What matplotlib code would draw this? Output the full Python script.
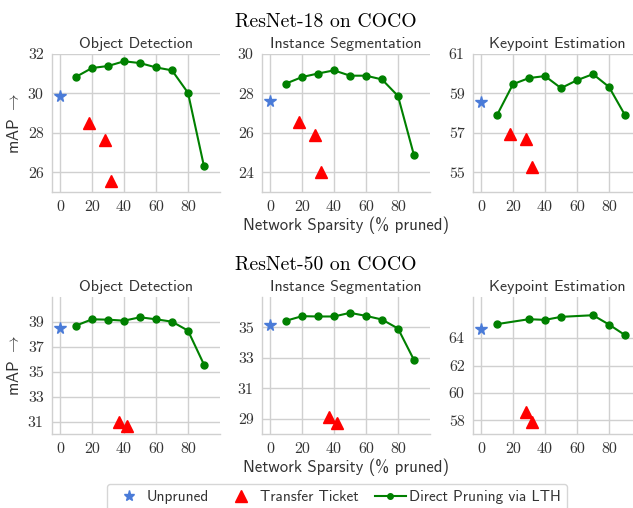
import matplotlib
matplotlib.use("Agg")
import matplotlib.pyplot as plt
from matplotlib.lines import Line2D

# ================= data =================
SPARSITY = [10, 20, 30, 40, 50, 60, 70, 80, 90]

R18_DET = [30.84, 31.29, 31.39, 31.63, 31.54, 31.32, 31.17, 30.03, 26.30]
R18_SEG = [28.50, 28.83, 29.01, 29.17, 28.90, 28.90, 28.71, 27.87, 24.86]
R18_KP  = [57.90, 59.47, 59.78, 59.88, 59.27, 59.67, 59.98, 59.33, 57.90]

R50_DET = [38.70, 39.21, 39.18, 39.10, 39.37, 39.21, 39.02, 38.30, 35.57]
R50_SEG = [35.44, 35.74, 35.72, 35.72, 35.96, 35.76, 35.52, 34.93, 32.86]
R50_KP_X = [10, 30, 40, 50, 70, 80, 90]
R50_KP   = [65.02, 65.38, 65.33, 65.55, 65.67, 64.99, 64.22]

UNPRUNED_R18 = [29.87, 27.62, 58.57]
UNPRUNED_R50 = [38.52, 35.17, 64.66]

TT_R18_X   = [18, 28, 32]
TT_R18_DET = [28.50, 27.66, 25.58]
TT_R18_SEG = [26.57, 25.88, 24.01]
TT_R18_KP  = [56.95, 56.68, 55.29]

TT_R50_DET_X = [37, 42]
TT_R50_DET   = [31.00, 30.65]
TT_R50_SEG_X = [37, 42]
TT_R50_SEG   = [29.09, 28.74]
TT_R50_KP_X  = [28, 32]
TT_R50_KP    = [58.60, 57.85]

TASKS = ["Object Detection", "Instance Segmentation", "Keypoint Estimation"]
XTICKS = [0, 20, 40, 60, 80]
# =================================================================

plt.rcParams["mathtext.fontset"] = "cm"
plt.rcParams["axes.unicode_minus"] = False

W, H = 633, 508
fig = plt.figure(figsize=(W / 100, H / 100), dpi=100)

BLUE = "#4a7bd8"
GRID = "#d0d0d0"
TXT = "#333333"
SERIF = "cmr10"
SANS = "cmss10"

lefts = [52, 262, 473]
ax_w = 168
rows = [(54, 192), (297, 434)]

panels = [
    # row 0 : ResNet-18
    [(SPARSITY, R18_DET, UNPRUNED_R18[0], TT_R18_X, TT_R18_DET, (25, 32), [26, 28, 30, 32]),
     (SPARSITY, R18_SEG, UNPRUNED_R18[1], TT_R18_X, TT_R18_SEG, (23, 30), [24, 26, 28, 30]),
     (SPARSITY, R18_KP, UNPRUNED_R18[2], TT_R18_X, TT_R18_KP, (54, 61), [55, 57, 59, 61])],
    # row 1 : ResNet-50
    [(SPARSITY, R50_DET, UNPRUNED_R50[0], TT_R50_DET_X, TT_R50_DET, (30, 41), [31, 33, 35, 37, 39]),
     (SPARSITY, R50_SEG, UNPRUNED_R50[1], TT_R50_SEG_X, TT_R50_SEG, (28, 37), [29, 31, 33, 35]),
     (R50_KP_X, R50_KP, UNPRUNED_R50[2], TT_R50_KP_X, TT_R50_KP, (57, 67), [58, 60, 62, 64])],
]

for r, (top, bot) in enumerate(rows):
    for c, left in enumerate(lefts):
        ax = fig.add_axes([left / W, 1 - bot / H, ax_w / W, (bot - top) / H])
        xs, ys, unp, ttx, tty, ylim, yticks = panels[r][c]

        ax.plot(xs, ys, color="green", marker="o", markersize=5, lw=1.5, zorder=3)
        ax.plot([0], [unp], ls="none", marker="*", markersize=8.5, color=BLUE, zorder=3)
        ax.plot(ttx, tty, ls="none", marker="^", markersize=8, color="red", zorder=3)

        ax.set_xlim(-5, 100)
        ax.set_ylim(*ylim)
        ax.set_xticks(XTICKS)
        ax.set_yticks(yticks)
        ax.grid(True, color=GRID, lw=1)
        ax.set_axisbelow(True)
        for s in ["top", "right"]:
            ax.spines[s].set_visible(False)
        for s in ["left", "bottom"]:
            ax.spines[s].set_color(GRID)
            ax.spines[s].set_linewidth(1)
        ax.tick_params(length=0, pad=6, labelsize=11.5, colors=TXT)
        for lab in ax.get_xticklabels() + ax.get_yticklabels():
            lab.set_fontfamily(SERIF)
        ax.set_title(TASKS[c], fontsize=11.5, family=SANS, color=TXT, pad=4)

        if c == 0:
            ax.set_ylabel(r"mAP $\rightarrow$", fontsize=12, family=SANS, color=TXT, labelpad=4)
        if c == 1:
            ax.set_xlabel("Network Sparsity (% pruned)", fontsize=12, family=SANS,
                          color=TXT, labelpad=2)

fig.text(326 / W, 1 - 22 / H, "ResNet-18 on COCO", ha="center", va="center",
         fontsize=14.2, family=SERIF)
fig.text(326 / W, 1 - 265 / H, "ResNet-50 on COCO", ha="center", va="center",
         fontsize=14.2, family=SERIF)

handles = [
    Line2D([], [], ls="none", marker="*", markersize=8, color=BLUE),
    Line2D([], [], ls="none", marker="^", markersize=8, color="red"),
    Line2D([], [], color="green", marker="o", markersize=4, lw=1.5),
]
labels = ["Unpruned", "Transfer Ticket", "Direct Pruning via LTH"]
leg = fig.legend(handles, labels, loc="upper center", bbox_to_anchor=(337 / W, 1 - 484 / H),
                 ncol=3, frameon=True, fancybox=True, edgecolor="#cccccc",
                 prop={"family": SANS, "size": 11}, handlelength=2.0,
                 handletextpad=0.2, columnspacing=1.1, borderaxespad=0)
for t in leg.get_texts():
    t.set_color(TXT)

fig.savefig("out.png", dpi=100)
